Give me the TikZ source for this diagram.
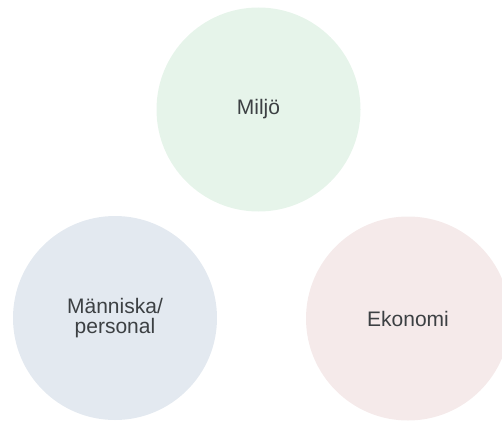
\documentclass[tikz,border=0pt]{standalone}
\usepackage{fontspec}
\setmainfont{Liberation Sans}
\definecolor{green1}{HTML}{E6F4EA}
\definecolor{blue1}{HTML}{E3E9F0}
\definecolor{red1}{HTML}{F5EAEA}
\definecolor{txt}{HTML}{3C4043}
\begin{document}
\begin{tikzpicture}[x=1pt,y=-1pt,
  bubble/.style={circle,draw=none,minimum size=204pt,inner sep=0pt,text=txt,
    font=\fontsize{21}{20}\selectfont,align=center}]
\useasboundingbox (0,0) rectangle (502,420);
\node[bubble,fill=green1] (miljo) at (258.5,109.5) {Miljö};
\node[bubble,fill=blue1] (manniska) at (115,318) {Människa/\\personal};
\node[bubble,fill=red1] (ekonomi) at (408,318.5) {Ekonomi};
\end{tikzpicture}
\end{document}
